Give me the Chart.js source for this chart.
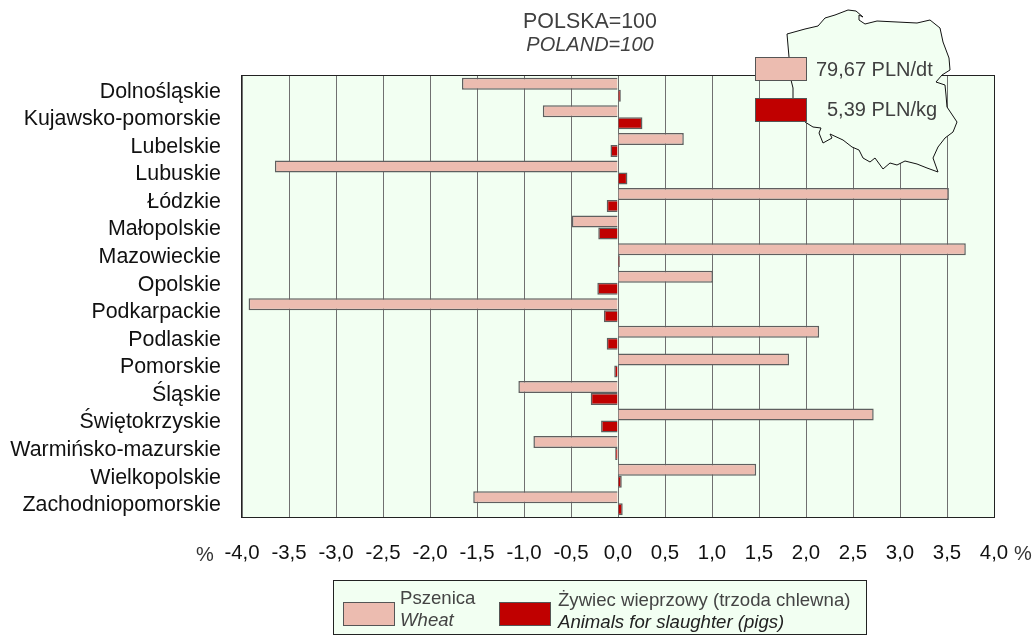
<!DOCTYPE html>
<html>
<head>
<meta charset="utf-8">
<script src="https://cdn.jsdelivr.net/npm/chart.js@4"></script>
<style>
  html, body { margin: 0; padding: 0; background: #fff; }
  #wrap { position: relative; width: 1036px; height: 637px; overflow: hidden; font-family: "Liberation Sans", Arial, sans-serif; color: #333; }
  #wrap canvas { position: absolute; left: 0; top: 0; }
  #mapa { position: absolute; left: 0; top: 0; }
  .txt { position: absolute; line-height: 18px; white-space: nowrap; }
  .cena { font-size: 20px; color: #404040; }
  .proc { font-size: 20px; color: #333; }
  .leg { font-size: 18.6px; color: #444; }
  .box { position: absolute; box-sizing: border-box; border: 1px solid #555; }
  #legenda { position: absolute; left: 333px; top: 580px; width: 534px; height: 55px; box-sizing: border-box; border: 1px solid #222; background: #f2fff2; }
</style>
</head>
<body>
<div id="wrap">
  <canvas id="wykres" width="1036" height="637"></canvas>
  <svg id="mapa" width="1036" height="637">
    <polygon id="granica" fill="#f2fff2" stroke="#111" stroke-width="1"></polygon>
  </svg>
  <div class="txt" style="left:470px;width:240px;text-align:center;top:12px;font-size:21.4px;color:#404040">POLSKA=100</div>
  <div class="txt" style="left:470px;width:240px;text-align:center;top:35px;font-size:20px;font-style:italic;color:#404040">POLAND=100</div>
  <div class="box" id="kolor1" style="left:755px;top:57px;width:52px;height:24px"></div>
  <div class="box" id="kolor2" style="left:755px;top:98px;width:52px;height:24px"></div>
  <div class="txt cena" style="left:816px;top:60px" id="cena1"></div>
  <div class="txt cena" style="left:827px;top:100px" id="cena2"></div>
  <div class="txt proc" style="left:196px;top:545px">%</div>
  <div class="txt proc" style="left:1014px;top:544px">%</div>
  <div id="legenda"></div>
</div>
<script>
// Województwa
const wojewodztwa = ['Dolnośląskie', 'Kujawsko-pomorskie', 'Lubelskie', 'Lubuskie', 'Łódzkie', 'Małopolskie',
    'Mazowieckie', 'Opolskie', 'Podkarpackie', 'Podlaskie', 'Pomorskie', 'Śląskie', 'Świętokrzyskie',
    'Warmińsko-mazurskie', 'Wielkopolskie', 'Zachodniopomorskie'];

// Odchylenie od średniej krajowej, %
const pszenica = [-1.66, -0.80, 0.70, -3.65, 3.52, -0.49, 3.70, 1.01, -3.93, 2.14, 1.82, -1.06, 2.72, -0.90, 1.47, -1.54];
const zywiec = [0.03, 0.26, -0.08, 0.10, -0.12, -0.21, 0.02, -0.22, -0.15, -0.12, -0.04, -0.29, -0.18, -0.03, 0.04, 0.05];

const cenaPszenicy = '79,67 PLN/dt';
const cenaZywca = '5,39 PLN/kg';

const kolorPszenica = '#ecbcb0';
const kolorZywiec = '#c00000';

// Obrys Polski (tylko dekoracja, nie dane)
const obrys = [[787,34],[805,29],[818,26],[825,18],[835,15],[848,10],[856,11],[863,17],[859,15],[859,20],[865,24],
    [877,21],[897,22],[917,23],[930,20],[940,28],[943,42],[949,58],[950,70],[942,75],[936,82],[945,85],[946,95],
    [947,107],[957,122],[953,132],[945,138],[938,147],[933,158],[938,172],[927,168],[917,164],[905,161],[897,165],
    [890,163],[883,169],[875,158],[870,162],[863,158],[859,150],[852,147],[843,140],[830,134],[832,138],[823,143],
    [819,133],[821,128],[813,127],[805,122],[793,98],[793,88],[791,80],[789,57]];
document.getElementById('granica').setAttribute('points', obrys.map(p => p.join(',')).join(' '));

document.getElementById('kolor1').style.background = kolorPszenica;
document.getElementById('kolor2').style.background = kolorZywiec;
document.getElementById('cena1').textContent = cenaPszenicy;
document.getElementById('cena2').textContent = cenaZywca;

document.getElementById('legenda').innerHTML =
    '<div class="box" style="left:9px;top:21px;width:52px;height:24px;background:' + kolorPszenica + '"></div>' +
    '<div class="txt leg" style="left:66px;top:8px">Pszenica</div>' +
    '<div class="txt leg" style="left:66px;top:30px;font-style:italic">Wheat</div>' +
    '<div class="box" style="left:165px;top:21px;width:52px;height:24px;background:' + kolorZywiec + '"></div>' +
    '<div class="txt leg" style="left:224px;top:10px">Żywiec wieprzowy (trzoda chlewna)</div>' +
    '<div class="txt leg" style="left:224px;top:32px;color:#222;font-style:italic">Animals for slaughter (pigs)</div>';

// Tło i ramka obszaru wykresu
const tloPlugin = {
    id: 'tlo',
    beforeDraw(chart) {
        const { ctx, chartArea: a } = chart;
        ctx.save();
        ctx.fillStyle = '#f2fff2';
        ctx.fillRect(a.left, a.top, a.right - a.left, a.bottom - a.top);
        ctx.restore();
    },
    afterDraw(chart) {
        const { ctx, chartArea: a } = chart;
        ctx.save();
        ctx.strokeStyle = '#222';
        ctx.lineWidth = 1;
        ctx.strokeRect(a.left - 0.5, a.top - 0.5, a.right - a.left + 1, a.bottom - a.top + 1);
        ctx.restore();
    }
};

new Chart(document.getElementById('wykres'), {
    type: 'bar',
    data: {
        labels: wojewodztwa,
        datasets: [
            { label: 'Pszenica', data: pszenica, backgroundColor: kolorPszenica, borderColor: '#5f5f5f', borderWidth: 1.5 },
            { label: 'Żywiec wieprzowy', data: zywiec, backgroundColor: kolorZywiec, borderColor: '#5f5f5f', borderWidth: 1.5 }
        ]
    },
    options: {
        indexAxis: 'y',
        responsive: false,
        animation: false,
        layout: { padding: { top: 76, right: 42, left: 0, bottom: 0 } },
        plugins: { legend: { display: false }, tooltip: { enabled: false } },
        datasets: { bar: { categoryPercentage: 0.87, barPercentage: 1 } },
        scales: {
            x: {
                min: -4,
                max: 4,
                afterFit: (s) => { s.height = 120; },
                ticks: {
                    stepSize: 0.5,
                    padding: 24,
                    maxRotation: 0,
                    autoSkip: false,
                    color: '#111',
                    font: { family: 'Liberation Sans', size: 20.4 },
                    callback: (v) => v.toFixed(1).replace('.', ',')
                },
                grid: { color: '#707070', lineWidth: 1, drawTicks: false },
                border: { display: false }
            },
            y: {
                afterFit: (s) => { s.width = 242; },
                ticks: {
                    padding: 21,
                    labelOffset: 2,
                    autoSkip: false,
                    color: '#111',
                    font: { family: 'Liberation Sans', size: 21.4 }
                },
                grid: { display: false, drawTicks: false },
                border: { display: false }
            }
        }
    },
    plugins: [tloPlugin]
});
</script>
</body>
</html>
